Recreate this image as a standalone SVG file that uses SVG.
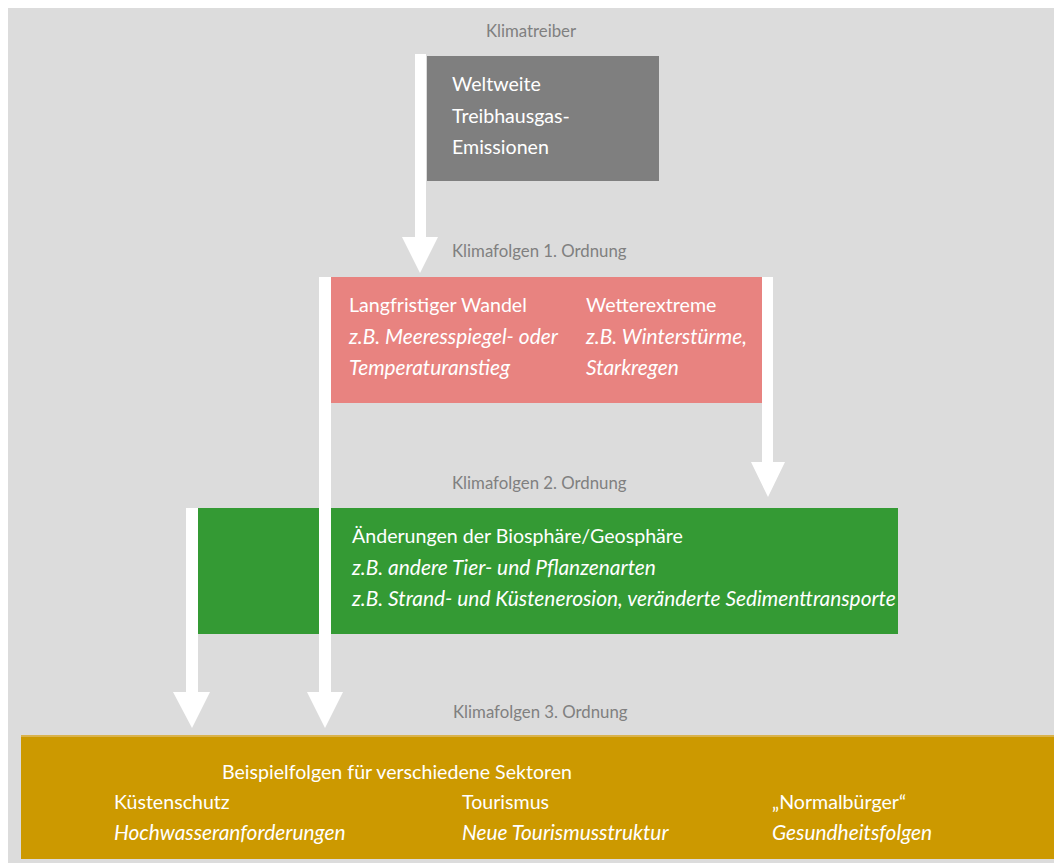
<svg xmlns="http://www.w3.org/2000/svg" width="1054" height="868" viewBox="0 0 1054 868">
<style>
.lbl{font-family:Lato,"Liberation Sans",sans-serif;font-size:16.8px;fill:#808080}
.t{font-family:Lato,"Liberation Sans",sans-serif;font-size:19.6px;fill:#ffffff}
.i{font-style:italic;font-size:20.9px}
.bar{fill:#ffffff}
</style>
<rect x="0" y="0" width="1054" height="868" fill="#ffffff"/>
<rect x="8" y="8" width="1046" height="855" fill="#dcdcdc"/>
<text class="lbl" x="531" y="37" text-anchor="middle">Klimatreiber</text>
<text class="lbl" x="452" y="257">Klimafolgen 1. Ordnung</text>
<text class="lbl" x="452" y="489">Klimafolgen 2. Ordnung</text>
<text class="lbl" x="453" y="718">Klimafolgen 3. Ordnung</text>
<g id="n-treiber">
<rect x="427" y="56" width="232" height="125" fill="#7f7f7f"/>
<text class="t" x="452" y="91">Weltweite</text>
<text class="t" x="452" y="123">Treibhausgas-</text>
<text class="t" x="452" y="154">Emissionen</text>
</g>
<g id="n-folgen1">
<rect x="331" y="277" width="431" height="126" fill="#e88380"/>
<text class="t" x="349" y="312">Langfristiger Wandel</text>
<text class="t i" x="349" y="344">z.B. Meeresspiegel- oder</text>
<text class="t i" x="349" y="375">Temperaturanstieg</text>
<text class="t" x="586" y="312">Wetterextreme</text>
<text class="t i" x="586" y="344">z.B. Winterstürme,</text>
<text class="t i" x="586" y="375">Starkregen</text>
</g>
<g id="n-folgen2">
<rect x="198" y="508" width="700" height="126" fill="#349a34"/>
<text class="t" x="352" y="543">Änderungen der Biosphäre/Geosphäre</text>
<text class="t i" x="352" y="575">z.B. andere Tier- und Pflanzenarten</text>
<text class="t i" x="352" y="606">z.B. Strand- und Küstenerosion, veränderte Sedimenttransporte</text>
</g>
<g id="n-folgen3">
<rect x="21" y="735" width="1033" height="124" fill="#cc9900"/>
<rect x="21" y="735" width="1033" height="2" fill="#d9b24d"/>
<text class="t" x="222" y="779">Beispielfolgen für verschiedene Sektoren</text>
<text class="t" x="114" y="809">Küstenschutz</text>
<text class="t i" x="114" y="840">Hochwasseranforderungen</text>
<text class="t" x="462" y="809">Tourismus</text>
<text class="t i" x="462" y="840">Neue Tourismusstruktur</text>
<text class="t" x="772" y="809">„Normalbürger“</text>
<text class="t i" x="772" y="840">Gesundheitsfolgen</text>
</g>
<g id="connectors">
<polygon class="bar" points="415,54 426,54 426,237 438,237 420,273 402,237 415,237"/>
<polygon class="bar" points="319,277 331,277 331,692 343,692 325,728 307,692 319,692"/>
<polygon class="bar" points="762,277 773,277 773,462 785,462 768,497 751,462 762,462"/>
<polygon class="bar" points="186,508 198,508 198,692 210,692 192,728 173,692 186,692"/>
</g>
</svg>
